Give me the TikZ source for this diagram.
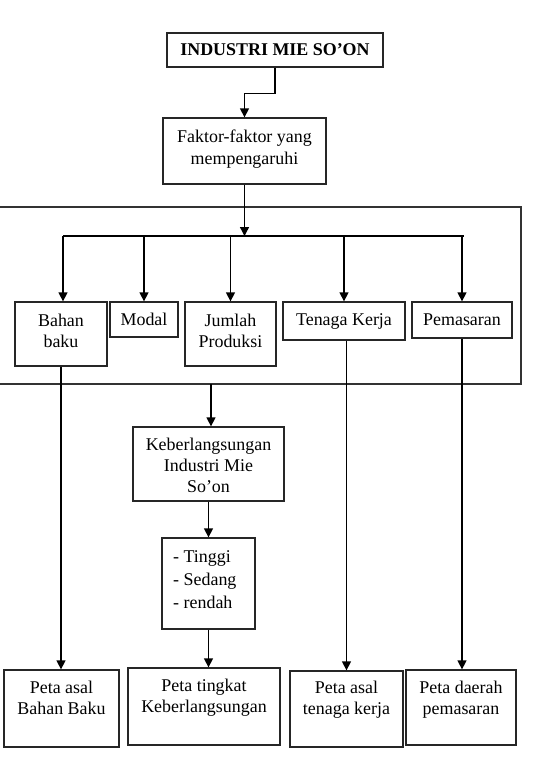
\documentclass[tikz,border=0pt]{standalone}
\usepackage{fontspec}
\setmainfont{Liberation Serif}
\usetikzlibrary{arrows.meta}
\tikzset{
  box/.style={draw=black!85, line width=1.3bp, inner sep=2bp, align=center, font=\fontsize{18}{22.5}\selectfont},
  txt/.style={inner sep=0pt, align=center, font=\fontsize{18}{20.5}\selectfont, anchor=north},
  ln/.style={line width=1.4bp, draw=black},
  arr/.style={ln, -{Triangle[length=9bp,width=9bp]}},
}
\begin{document}
\begin{tikzpicture}[x=1bp,y=-1bp]
\useasboundingbox (0,0) rectangle (537,764);
% frame (left side outside picture)
\draw[ln, draw=black!80] (0,207) -- (521,207) -- (521,384) -- (0,384);
% top
\node[box, minimum width=216bp, minimum height=34bp, font=\fontsize{18}{22}\selectfont\bfseries] (ind) at (275,50) {INDUSTRI MIE SO’ON};
\node[box, minimum width=163bp, minimum height=66bp] (fak) at (244.5,151) {};
\node[txt, font=\fontsize{18}{22.5}\selectfont] (fakt) at (244.5,129.5) {Faktor-faktor yang\\mempengaruhi};
% factors
\node[box, minimum width=92bp, minimum height=64bp] (bb) at (61,334) {};
\node[txt] (bbt) at (61,314) {Bahan\\baku};
\node[box, minimum width=68bp, minimum height=35bp] (mod) at (144,319.5) {Modal};
\node[box, minimum width=91bp, minimum height=64bp] (jp) at (230.5,334) {};
\node[txt] (jpt) at (230.5,314) {Jumlah\\Produksi};
\node[box, minimum width=122bp, minimum height=38bp] (tk) at (344,321) {Tenaga Kerja};
\node[box, minimum width=100bp, minimum height=36bp] (pem) at (462,320) {Pemasaran};
% middle chain
\node[box, minimum width=151bp, minimum height=74bp] (keb) at (208.5,464) {};
\node[txt, font=\fontsize{18}{21.5}\selectfont] (kebt) at (208.5,437.5) {Keberlangsungan\\Industri Mie\\So’on};
\node[box, minimum width=93bp, minimum height=91bp] (tsr) at (208.5,583.5) {};
\node[txt, anchor=north west, align=left, font=\fontsize{18}{23.5}\selectfont] (tsrt) at (173,550) {- Tinggi\\- Sedang\\- rendah};
% bottom maps
\node[box, minimum width=115bp, minimum height=77bp] (p1) at (61.5,708.5) {};
\node[txt] (p1t) at (61.5,681) {Peta asal\\Bahan Baku};
\node[box, minimum width=152bp, minimum height=77bp] (p2) at (204,706.5) {};
\node[txt] (p2t) at (204,679) {Peta tingkat\\Keberlangsungan};
\node[box, minimum width=113bp, minimum height=76bp] (p3) at (346.5,709) {};
\node[txt] (p3t) at (346.5,681) {Peta asal\\tenaga kerja};
\node[box, minimum width=110bp, minimum height=75bp] (p4) at (461,707.5) {};
\node[txt] (p4t) at (461,681) {Peta daerah\\pemasaran};
% connectors
\draw[arr] (ind.south) -- ++(0,26) -| (fak.north);
\coordinate (hub) at (244.5,236);
\coordinate (busL) at (63,236);
\coordinate (busR) at (464,236);
\draw[arr] (fak.south) -- (hub);
\draw[ln] (busL) -- (busR);
\draw[arr] (busL) -- (busL |- bb.north);
\draw[arr] (mod.north |- hub) -- (mod.north);
\draw[arr] (jp.north |- hub) -- (jp.north);
\draw[arr] (tk.north |- hub) -- (tk.north);
\draw[arr] (pem.north |- hub) -- (pem.north);
\draw[arr] (bb.south) -- (bb.south |- p1.north);
\coordinate (fb) at (211,384);
\draw[arr] (fb) -- (fb |- keb.north);
\draw[arr] (keb.south) -- (tsr.north);
\draw[arr] (tsr.south) -- (tsr.south |- p2.north);
\draw[arr] (p3.north |- tk.south) -- (p3.north);
\draw[arr] (pem.south) -- (pem.south |- p4.north);
\end{tikzpicture}
\end{document}
